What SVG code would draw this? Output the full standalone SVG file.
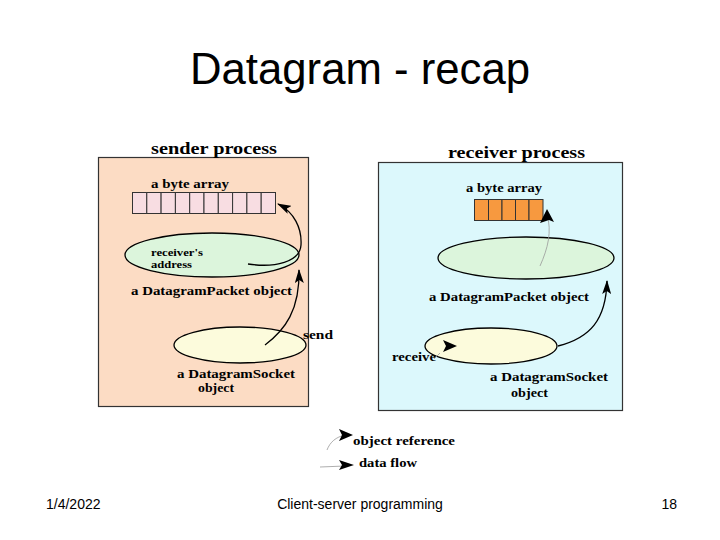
<svg xmlns="http://www.w3.org/2000/svg" width="720" height="540" viewBox="0 0 720 540">
<style>
.title{font-family:"Liberation Sans",Arial,sans-serif;font-size:44px;fill:#000}
.foot{font-family:"Liberation Sans",Arial,sans-serif;font-size:14px;fill:#000}
.hd{font-family:"Liberation Serif","Times New Roman",serif;font-weight:bold;font-size:17px;fill:#000}
.lb{font-family:"Liberation Serif","Times New Roman",serif;font-weight:bold;font-size:12.5px;fill:#000}
.sm{font-family:"Liberation Serif","Times New Roman",serif;font-weight:bold;font-size:11px;fill:#000}
.box{stroke:#333;stroke-width:1.2}
.ell{stroke:#000;stroke-width:1.3}
.cell{stroke:#333;stroke-width:1}
.flow{fill:none;stroke:#000;stroke-width:1.3}
.ref{fill:none;stroke:#999;stroke-width:0.8}
</style>
<defs>
<marker id="ah" viewBox="0 0 14 9" refX="13" refY="4.5" markerWidth="14" markerHeight="9" markerUnits="userSpaceOnUse" orient="auto">
<path d="M0,0 L14,4.5 L0,9 L3,4.5 Z" fill="#000"/>
</marker>
</defs>
<rect width="720" height="540" fill="#fff"/>
<text class="title" x="360" y="84" text-anchor="middle" textLength="340" lengthAdjust="spacingAndGlyphs">Datagram - recap</text>

<g id="sender">
<rect class="box" x="98.5" y="157.5" width="210" height="249" fill="#fcdcc4"/>
<text class="hd" x="151" y="154" textLength="126" lengthAdjust="spacingAndGlyphs">sender process</text>
</g>
<g id="receiver">
<rect class="box" x="378.5" y="162.5" width="244" height="248" fill="#dcf8fc"/>
<text class="hd" x="448" y="158" textLength="137" lengthAdjust="spacingAndGlyphs">receiver process</text>
</g>

<g id="sender-bytearray">
<text class="lb" x="151" y="188" textLength="78" lengthAdjust="spacingAndGlyphs">a byte array</text>
<g fill="#f8dde2">
<rect class="cell" x="132.5" y="192.5" width="14.3" height="21"/>
<rect class="cell" x="146.8" y="192.5" width="14.3" height="21"/>
<rect class="cell" x="161.1" y="192.5" width="14.3" height="21"/>
<rect class="cell" x="175.4" y="192.5" width="14.3" height="21"/>
<rect class="cell" x="189.7" y="192.5" width="14.3" height="21"/>
<rect class="cell" x="204" y="192.5" width="14.3" height="21"/>
<rect class="cell" x="218.3" y="192.5" width="14.3" height="21"/>
<rect class="cell" x="232.6" y="192.5" width="14.3" height="21"/>
<rect class="cell" x="246.9" y="192.5" width="14.3" height="21"/>
<rect class="cell" x="261.2" y="192.5" width="14.3" height="21"/>
</g>
</g>

<g id="sender-packet">
<ellipse class="ell" cx="212" cy="255" rx="87" ry="22" fill="#dcf5dc"/>
<text class="sm" x="151" y="256" textLength="52" lengthAdjust="spacingAndGlyphs">receiver's</text>
<text class="sm" x="151" y="268" textLength="41" lengthAdjust="spacingAndGlyphs">address</text>
<text class="lb" x="131" y="295" textLength="161" lengthAdjust="spacingAndGlyphs">a DatagramPacket object</text>
</g>

<g id="sender-socket">
<ellipse class="ell" cx="240" cy="345" rx="66" ry="18" fill="#fcfbdc"/>
<text class="lb" x="177" y="378" textLength="118" lengthAdjust="spacingAndGlyphs">a DatagramSocket</text>
<text class="lb" x="198" y="392" textLength="36" lengthAdjust="spacingAndGlyphs">object</text>
</g>

<g id="receiver-bytearray">
<text class="lb" x="466" y="192" textLength="76" lengthAdjust="spacingAndGlyphs">a byte array</text>
<g fill="#f7993f">
<rect class="cell" x="474.5" y="199.5" width="14" height="21"/>
<rect class="cell" x="488.5" y="199.5" width="13.5" height="21"/>
<rect class="cell" x="502" y="199.5" width="13.5" height="21"/>
<rect class="cell" x="515.5" y="199.5" width="13.5" height="21"/>
<rect class="cell" x="529" y="199.5" width="14" height="21"/>
</g>
</g>

<g id="receiver-packet">
<ellipse class="ell" cx="526" cy="258" rx="88" ry="21" fill="#dcf5dc"/>
<text class="lb" x="429" y="301" textLength="160" lengthAdjust="spacingAndGlyphs">a DatagramPacket object</text>
</g>

<g id="receiver-socket">
<ellipse class="ell" cx="491" cy="346" rx="66" ry="18" fill="#fcfbdc"/>
<text class="lb" x="490" y="381" textLength="118" lengthAdjust="spacingAndGlyphs">a DatagramSocket</text>
<text class="lb" x="511" y="397" textLength="37" lengthAdjust="spacingAndGlyphs">object</text>
</g>

<g id="connectors">
<path class="flow" d="M248,264 C275,268 300,262 301,245 C302,228 294,212 278,204" marker-end="url(#ah)"/>
<path class="flow" d="M265,345 C285,330 300,310 299,270" marker-end="url(#ah)"/>
<text class="lb" x="303" y="339" textLength="30" lengthAdjust="spacingAndGlyphs">send</text>
<path class="ref" d="M540,266 C548,248 552,232 547,214"/>
<path d="M547,209 L554,222 L549,220 L540,223 Z" fill="#000"/>
<path class="flow" d="M558,346 C590,338 606,320 607,281" marker-end="url(#ah)"/>
<path d="M443,340 L457,346 L443,352 L446,346 Z" fill="#000"/>
<text class="lb" x="392" y="361" textLength="44" lengthAdjust="spacingAndGlyphs">receive</text>
<path class="ref" d="M434,359 L440,353"/>
<path class="ref" d="M327,450 C330,442 336,437 345,435"/>
<path d="M339,429 L353,435 L339,441 L342,435 Z" fill="#000"/>
<text class="lb" x="353" y="445" textLength="102" lengthAdjust="spacingAndGlyphs">object reference</text>
<path class="ref" d="M320,467 L345,466"/>
<path d="M339,460 L354,465 L339,470 L342,465 Z" fill="#000"/>
<text class="lb" x="359" y="467" textLength="58" lengthAdjust="spacingAndGlyphs">data flow</text>
</g>

<text class="foot" x="46" y="509">1/4/2022</text>
<text class="foot" x="360" y="509" text-anchor="middle">Client-server programming</text>
<text class="foot" x="677" y="509" text-anchor="end">18</text>
</svg>
